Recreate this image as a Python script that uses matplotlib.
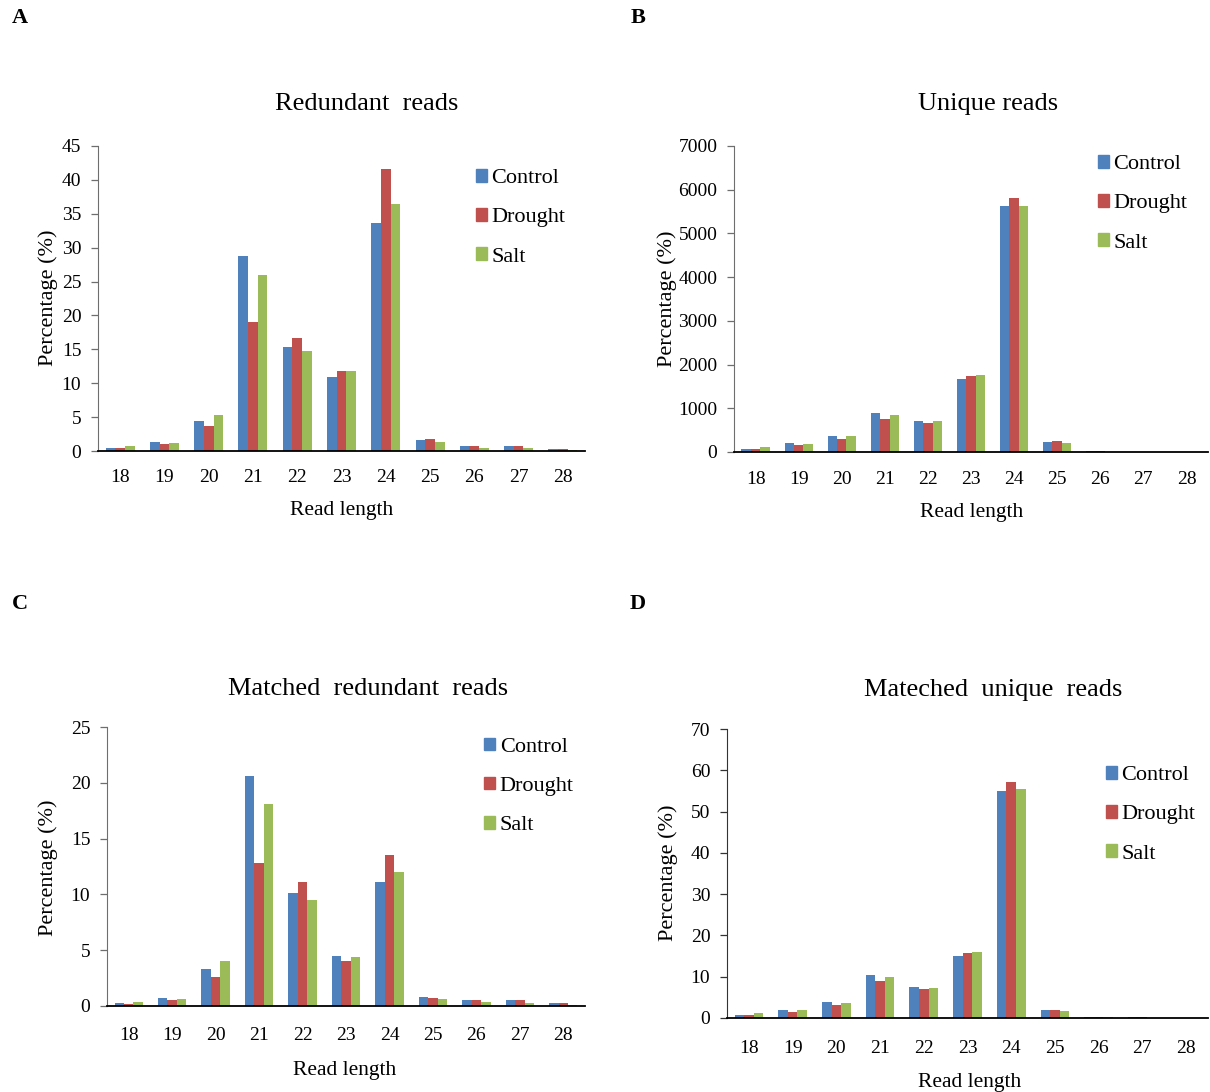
# Read length distribution of small RNA reads, four panels
import matplotlib
matplotlib.use("Agg")
import matplotlib.pyplot as plt
from matplotlib.patches import Patch
import numpy as np

plt.rcParams['font.family'] = ['Liberation Serif', 'DejaVu Serif']

lengths = ['18', '19', '20', '21', '22', '23', '24', '25', '26', '27', '28']
groups = ['Control', 'Drought', 'Salt']
colors = ['#4F81BD', '#C0504D', '#9BBB59']

# A - redundant reads (%)
red_control = [0.4, 1.4, 4.5, 28.8, 15.3, 10.9, 33.7, 1.6, 0.7, 0.7, 0.3]
red_drought = [0.4, 1.0, 3.7, 19.0, 16.6, 11.8, 41.6, 1.8, 0.7, 0.7, 0.3]
red_salt = [0.8, 1.2, 5.3, 25.9, 14.8, 11.8, 36.5, 1.3, 0.5, 0.5, 0.1]

# B - unique reads
uniq_control = [60, 200, 360, 900, 700, 1670, 5630, 230, 30, 0, 0]
uniq_drought = [60, 150, 300, 750, 670, 1740, 5800, 260, 20, 0, 0]
uniq_salt = [110, 180, 360, 850, 700, 1760, 5630, 200, 0, 0, 0]

# C - matched redundant reads (%)
mred_control = [0.3, 0.7, 3.3, 20.6, 10.1, 4.5, 11.1, 0.8, 0.5, 0.5, 0.3]
mred_drought = [0.2, 0.5, 2.6, 12.8, 11.1, 4.0, 13.5, 0.7, 0.5, 0.5, 0.3]
mred_salt = [0.4, 0.6, 4.0, 18.1, 9.5, 4.4, 12.0, 0.6, 0.4, 0.3, 0.1]

# D - matched unique reads (%)
muniq_control = [0.8, 2.0, 3.8, 10.4, 7.5, 15.0, 55.0, 2.0, 0.2, 0.2, 0.1]
muniq_drought = [0.8, 1.5, 3.2, 9.0, 7.0, 15.7, 57.2, 2.0, 0.2, 0.2, 0.0]
muniq_salt = [1.3, 2.0, 3.6, 10.0, 7.2, 16.0, 55.5, 1.7, 0.2, 0.0, 0.0]

W, H = 1210, 1092
fig = plt.figure(figsize=(W / 100, H / 100), dpi=100)


def px_rect(left, top, right, bottom):
    return [left / W, 1 - bottom / H, (right - left) / W, (bottom - top) / H]


def draw_panel(rect, series, ymax, ystep, leg_xy, xpad, spine_col='#6e6e6e'):
    ax = fig.add_axes(rect)
    x = np.arange(len(lengths))
    bw = 0.218
    for i, vals in enumerate(series):
        ax.bar(x + (i - 1) * bw, vals, bw, color=colors[i], linewidth=0)
    ax.set_xlim(-0.5, len(lengths) - 0.5)
    ax.set_ylim(0, ymax)
    ax.set_yticks(np.arange(0, ymax + ystep / 2, ystep))
    ax.set_xticks(x)
    ax.set_xticklabels(lengths)
    for s in ['top', 'right']:
        ax.spines[s].set_visible(False)
    ax.spines['left'].set_color(spine_col)
    ax.spines['bottom'].set_color('black')
    ax.spines['bottom'].set_linewidth(1.3)
    ax.tick_params(axis='x', length=0, pad=xpad, labelsize=14)
    ax.tick_params(axis='y', length=5, width=0.9, color=spine_col,
                   pad=7, labelsize=14)
    handles = [Patch(color=c) for c in colors]
    ax.legend(handles, groups, loc='upper left', bbox_to_anchor=leg_xy,
              frameon=False, fontsize=16, handlelength=0.5,
              handleheight=0.5, handletextpad=0.2, labelspacing=0.9,
              borderpad=0, borderaxespad=0)
    return ax


draw_panel(px_rect(98, 146, 585, 451), [red_control, red_drought, red_salt],
           45, 5, (0.776, 0.925), 13)
draw_panel(px_rect(734, 146, 1208, 452), [uniq_control, uniq_drought, uniq_salt],
           7000, 1000, (0.768, 0.971), 14)
draw_panel(px_rect(107, 727, 585, 1006), [mred_control, mred_drought, mred_salt],
           25, 5, (0.789, 0.962), 15)
draw_panel(px_rect(727, 729, 1208, 1018), [muniq_control, muniq_drought, muniq_salt],
           70, 10, (0.788, 0.872), 16, spine_col='#333333')

# titles
fig.text(367 / W, 1 - 104 / H, 'Redundant  reads', ha='center', va='center', fontsize=19)
fig.text(988 / W, 1 - 104 / H, 'Unique reads', ha='center', va='center', fontsize=19)
fig.text(368 / W, 1 - 689 / H, 'Matched  redundant  reads', ha='center', va='center', fontsize=19)
fig.text(993 / W, 1 - 690 / H, 'Mateched  unique  reads', ha='center', va='center', fontsize=19)

# axis labels
for xx, yy in [(342, 510), (972, 512), (345, 1070), (970, 1082)]:
    fig.text(xx / W, 1 - yy / H, 'Read length', ha='center', va='center', fontsize=15.5)
for xx, yy in [(48, 298), (667, 299), (48, 868), (668, 873)]:
    fig.text(xx / W, 1 - yy / H, 'Percentage (%)', ha='center', va='center',
             rotation=90, fontsize=16)

# panel letters
for letter, xx, yy in [('A', 20, 18), ('B', 638, 18), ('C', 20, 604), ('D', 638, 604)]:
    fig.text(xx / W, 1 - yy / H, letter, ha='center', va='center',
             fontsize=16, fontweight='bold')

fig.savefig('out.png', dpi=100)
